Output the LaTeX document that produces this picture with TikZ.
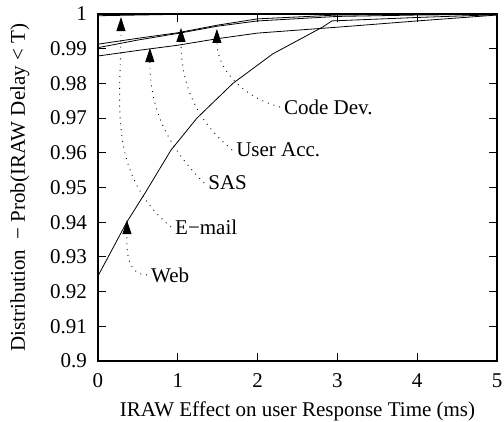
\documentclass[tikz,border=0pt]{standalone}
\usepackage{fontspec}
\setmainfont{Liberation Serif}
\usetikzlibrary{arrows.meta}
\tikzset{
  frm/.style={line width=1.1pt},
  crv/.style={line width=.8pt,line join=round},
  ptr/.style={line width=.9pt,dash pattern=on .9pt off 5pt,
              -{Triangle[length=14pt,width=9pt]}},
  lbl/.style={font=\fontsize{21}{25}\selectfont,anchor=west,inner sep=4pt},
  tkl/.style={font=\fontsize{21}{25}\selectfont,inner sep=0pt},
}

\begin{document}
\begin{tikzpicture}[x=79.8pt,y=34.7pt]
  \useasboundingbox (-98pt,-60pt) rectangle (406pt,361pt);
  % frame, ticks
  \draw[frm] (0,0) rectangle (5,10);
  \foreach \i/\t in {0/0.9,1/0.91,2/0.92,3/0.93,4/0.94,5/0.95,6/0.96,7/0.97,8/0.98,9/0.99,10/1} {
    \draw[frm] (0,\i) -- ++(8pt,0) (5,\i) -- ++(-8pt,0);
    \node[tkl,anchor=east] at ([xshift=-11pt]0,\i) {\t};
  }
  \foreach \x in {0,...,5} {
    \draw[frm] (\x,0) -- ++(0,8pt) (\x,10) -- ++(0,-8pt);
    \node[tkl,anchor=base] at ([yshift=-26pt]\x,0) {\x};
  }
  \node[tkl,anchor=base] (xttl) at ([yshift=-55pt]2.5,0) {IRAW Effect on user Response Time (ms)};
  \node[tkl,rotate=90,anchor=base] (yttl) at ([xshift=-73pt]0,5) {Distribution\ \ − Prob(IRAW Delay < T)};

  % curves
  \draw[crv] plot coordinates {(0,9.95) (0.5,9.97) (1,9.99) (2,10) (5,10)};
  \draw[crv] plot coordinates {(0,9.13) (0.5,9.30) (1,9.46) (1.5,9.68) (2,9.86) (3,9.97) (4,9.99) (5,10)};
  \draw[crv] plot coordinates {(0,9.03) (0.5,9.25) (1,9.44) (1.5,9.65) (2,9.80) (3,9.93) (4,9.97) (5,9.99)};
  \draw[crv] plot coordinates {(0,8.79) (0.5,8.95) (1,9.10) (1.5,9.29) (2,9.45) (3,9.62) (4,9.80) (5,9.97)};
  \draw[crv] plot coordinates {(0,2.45) (0.36,4.0) (0.59,4.84) (0.915,6.08) (1.24,7.0) (1.69,8.0)
                               (2.19,8.85) (2.82,9.63) (2.93,9.8) (4,9.9) (5,9.98)};

  % labels
  \node[lbl] (cdLbl)  at (2.28,7.32)  {Code Dev.};
  \node[lbl] (uaLbl)  at (1.68,6.08)  {User Acc.};
  \node[lbl] (sasLbl) at (1.33,5.13)  {SAS};
  \node[lbl] (emLbl)  at (0.915,3.86) {E−mail};
  \node[lbl] (webLbl) at (0.614,2.48) {Web};
  \coordinate (cdTip)  at (1.49,9.57);
  \coordinate (uaTip)  at (1.04,9.60);
  \coordinate (sasTip) at (0.65,9.02);
  \coordinate (emTip)  at (0.288,9.91);
  \coordinate (webTip) at (0.363,4.06);
  \draw[ptr] (cdLbl.west)  to[out=165,in=-90] (cdTip);
  \draw[ptr] (uaLbl.west)  to[out=140,in=-90] (uaTip);
  \draw[ptr] (sasLbl.west) to[out=135,in=-90] (sasTip);
  \draw[ptr] (emLbl.west)  to[out=140,in=-90] (emTip);
  \draw[ptr] (webLbl.west) to[out=180,in=-90] (webTip);
\end{tikzpicture}
\end{document}
